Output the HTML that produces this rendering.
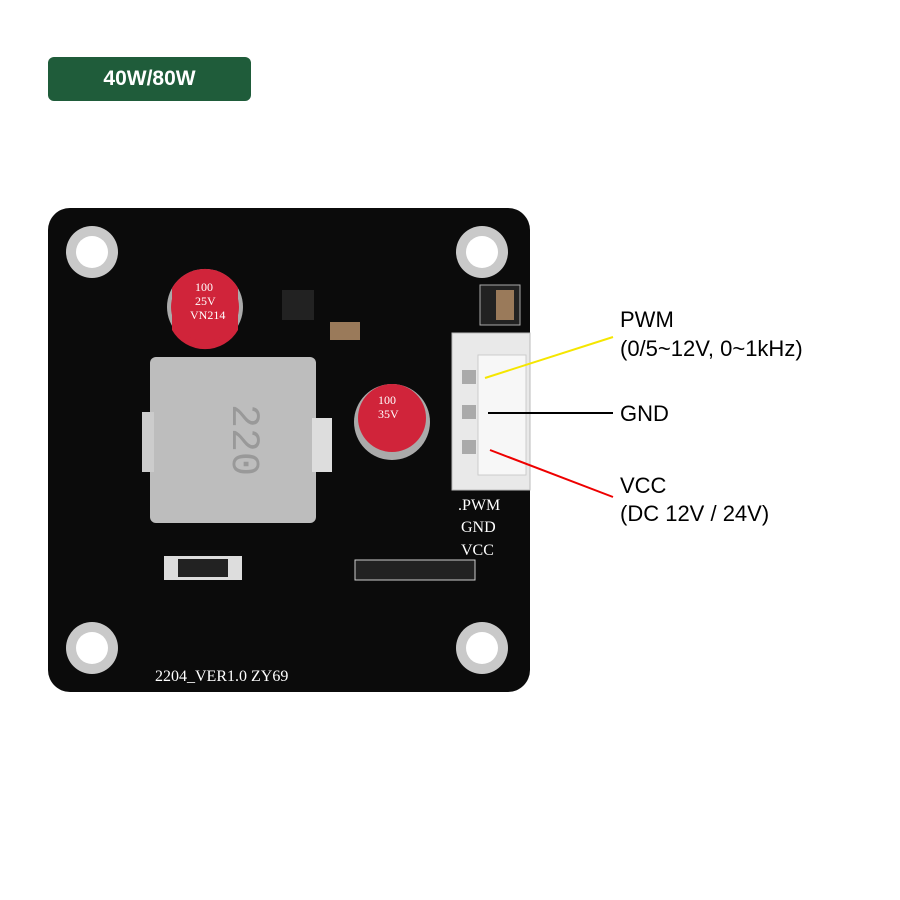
<!DOCTYPE html>
<html><head><meta charset="utf-8"><style>
body{margin:0;background:#fff;width:900px;height:900px;overflow:hidden;position:relative;font-family:"Liberation Sans",sans-serif}
.a{position:absolute}
</style></head><body>
<div class="a" style="left:48px;top:57px;width:203px;height:44px;background:#1f5c3a;border-radius:6px;color:#fff;font-weight:bold;font-size:21px;line-height:44px;text-align:center">40W/80W</div>
<svg class="a" style="left:0;top:0" width="900" height="900">
<rect x="48" y="208" width="482" height="484" rx="22" fill="#0b0b0b"/>
<g fill="#c9c9c9"><circle cx="92" cy="252" r="26"/><circle cx="482" cy="252" r="26"/><circle cx="92" cy="648" r="26"/><circle cx="482" cy="648" r="26"/></g>
<g fill="#fff"><circle cx="92" cy="252" r="16"/><circle cx="482" cy="252" r="16"/><circle cx="92" cy="648" r="16"/><circle cx="482" cy="648" r="16"/></g>
<rect x="150" y="357" width="166" height="166" rx="6" fill="#bdbdbd"/>
<rect x="312" y="418" width="20" height="54" fill="#ddd"/>
<rect x="142" y="412" width="12" height="60" fill="#ccc"/>
<text x="233" y="440" font-size="40" fill="#999" transform="rotate(90 233 440)" text-anchor="middle" font-family="Liberation Mono">220</text>
<circle cx="205" cy="307" r="38" fill="#aaa"/>
<path d="M172 288 A38 38 0 0 1 238 288 L238 330 A38 38 0 0 1 172 330Z" fill="#d0243a"/>
<circle cx="205" cy="307" r="34" fill="#d0243a"/>
<text x="195" y="291" font-size="12" fill="#fff" font-family="Liberation Serif">100</text>
<text x="195" y="305" font-size="12" fill="#fff" font-family="Liberation Serif">25V</text>
<text x="190" y="319" font-size="12" fill="#fff" font-family="Liberation Serif">VN214</text>
<circle cx="392" cy="422" r="38" fill="#aaa"/>
<circle cx="392" cy="418" r="34" fill="#d0243a"/>
<text x="378" y="404" font-size="12" fill="#fff" font-family="Liberation Serif">100</text>
<text x="378" y="418" font-size="12" fill="#fff" font-family="Liberation Serif">35V</text>
<rect x="164" y="556" width="78" height="24" fill="#ddd"/><rect x="178" y="559" width="50" height="18" fill="#222"/>
<rect x="355" y="560" width="120" height="20" fill="#222" stroke="#ccc"/>
<rect x="282" y="290" width="32" height="30" fill="#222"/>
<rect x="330" y="322" width="30" height="18" fill="#9a7a5a"/>
<rect x="480" y="285" width="40" height="40" fill="#222" stroke="#aaa"/>
<rect x="496" y="290" width="18" height="30" fill="#9a7a5a"/>
<rect x="452" y="333" width="78" height="157" fill="#e9e9e9" stroke="#bbb"/>
<rect x="478" y="355" width="48" height="120" fill="#f7f7f7" stroke="#ccc"/>
<g fill="#aaa"><rect x="462" y="370" width="14" height="14"/><rect x="462" y="405" width="14" height="14"/><rect x="462" y="440" width="14" height="14"/></g>
<g font-family="Liberation Serif" font-size="16" fill="#fff">
<text x="458" y="510">.PWM</text><text x="461" y="532">GND</text><text x="461" y="555">VCC</text>
<text x="155" y="681">2204_VER1.0  ZY69</text></g>
<line x1="485" y1="378" x2="613" y2="337" stroke="#f5e600" stroke-width="2"/>
<line x1="488" y1="413" x2="613" y2="413" stroke="#000" stroke-width="2"/>
<line x1="490" y1="450" x2="613" y2="497" stroke="#e00" stroke-width="2"/>
<g font-size="22" fill="#000">
<text x="620" y="327">PWM</text><text x="620" y="356">(0/5~12V, 0~1kHz)</text>
<text x="620" y="421">GND</text>
<text x="620" y="493">VCC</text><text x="620" y="521">(DC 12V / 24V)</text></g>
</svg>
</body></html>
